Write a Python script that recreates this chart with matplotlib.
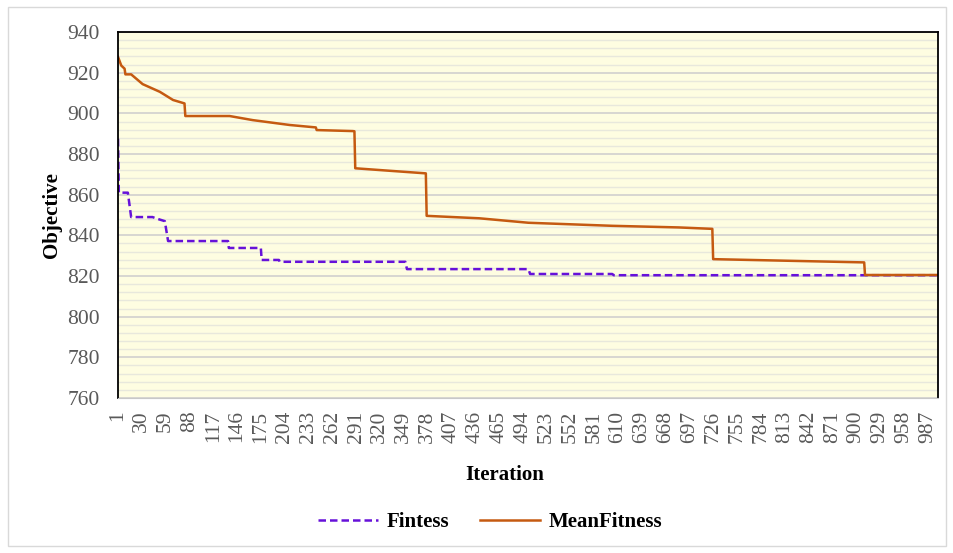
import matplotlib
matplotlib.use("Agg")
import matplotlib.pyplot as plt
from matplotlib.patches import Rectangle
from matplotlib.ticker import MultipleLocator

plt.rcParams["font.family"] = ["Liberation Serif", "DejaVu Serif"]

# breakpoints (iteration, objective)
mean_iter = [1, 5, 9, 10, 17, 31, 52, 68, 82, 83, 137, 165, 210, 242, 243, 287,
             289, 290, 331, 376, 377, 441, 501, 603, 684, 725, 726, 910, 911, 1000]
mean_val = [927.8, 923.5, 922.0, 919.2, 919.2, 914.4, 910.6, 906.6, 904.9, 898.7,
            898.7, 896.7, 894.3, 893.1, 891.8, 891.3, 891.2, 873.0, 871.8, 870.5,
            849.6, 848.4, 846.2, 844.7, 843.9, 843.2, 828.3, 826.7, 820.5, 820.5]

fit_iter = [1, 2, 13, 17, 43, 50, 58, 62, 135, 136, 175, 176, 197, 198, 351, 353,
            501, 503, 603, 605, 1000]
fit_val = [887.5, 861.0, 861.0, 849.0, 849.0, 848.0, 847.0, 837.2, 837.2, 833.8,
           833.8, 827.9, 827.9, 827.0, 827.0, 823.4, 823.4, 821.0, 821.0, 820.4, 820.4]

xticks = list(range(1, 1001, 29))

fig = plt.figure(figsize=(9.54, 5.53), dpi=100)
ax = fig.add_axes([0.1237, 0.2803, 0.8596, 0.6617])
ax.set_facecolor("#FEFDE1")

ax.plot(fit_iter, fit_val, color="#6611D9", lw=1.8, dashes=(3, 1.6), label="Fintess")
ax.plot(mean_iter, mean_val, color="#C55A11", lw=1.8, label="MeanFitness")

ax.set_xlim(1, 1000)
ax.set_ylim(760, 940)
ax.yaxis.set_major_locator(MultipleLocator(20))
ax.yaxis.set_minor_locator(MultipleLocator(4))
ax.grid(True, which="major", axis="y", color="#D4D4D0", lw=1.3)
ax.grid(True, which="minor", axis="y", color="#E8E8DC", lw=1.0)
ax.set_axisbelow(True)
ax.set_xticks(xticks)
ax.set_xticklabels([str(t) for t in xticks], rotation=90)
ax.tick_params(axis="both", which="both", length=0, labelsize=15.5, labelcolor="#595959")
ax.tick_params(axis="y", pad=13)
ax.tick_params(axis="x", pad=9)
for s in ["left", "top", "right"]:
    ax.spines[s].set_color("black")
    ax.spines[s].set_linewidth(1.3)
ax.spines["bottom"].set_color("#C8C8C8")

fig.text(0.529, 0.141, "Iteration", ha="center", va="center", fontsize=15, fontweight="bold")
fig.text(0.055, 0.611, "Objective", ha="center", va="center", rotation=90,
         fontsize=15, fontweight="bold")

fig.legend(loc="center", bbox_to_anchor=(0.5136, 0.056), ncol=2, frameon=False,
           prop={"size": 15, "weight": "bold"}, handlelength=2.9, handletextpad=0.4,
           columnspacing=1.45)

fig.patches.append(Rectangle((8 / 954, 7 / 553), 938 / 954, 539 / 553, transform=fig.transFigure,
                             fill=False, edgecolor="#D9D9D9", lw=1))

fig.savefig("out.png", dpi=100)
